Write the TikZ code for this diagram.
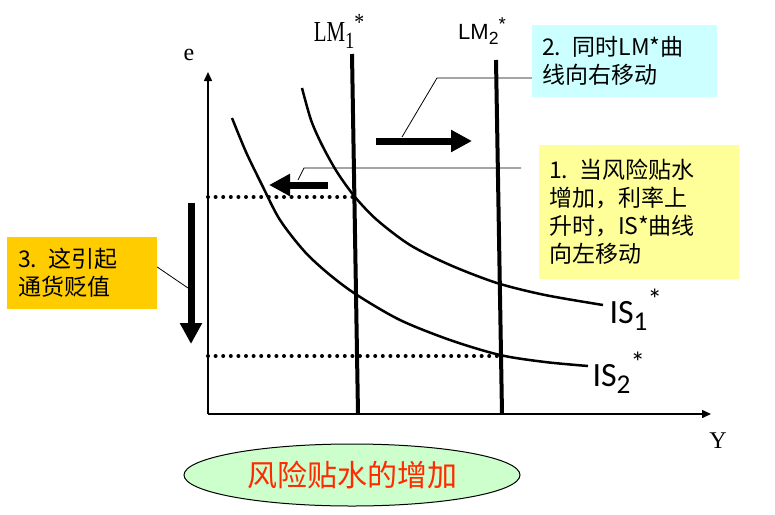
\documentclass[tikz,border=0pt]{standalone}
\usepackage{fontspec}
\setmainfont{Liberation Serif}
\newfontfamily\cjk{Noto Sans CJK SC}
\newfontfamily\lab{Carlito}
\newfontfamily\arl{Liberation Sans}
\usetikzlibrary{arrows.meta, shapes.geometric}
\definecolor{notecyan}{HTML}{CCFFFF}
\definecolor{noteyellow}{HTML}{FFFF99}
\definecolor{noteorange}{HTML}{FFCC00}
\definecolor{ovalgreen}{HTML}{CCFFCC}
\definecolor{ovalred}{HTML}{FF2A00}
\newcommand\subsup[2]{\raisebox{-0.22em}{\scalebox{0.8}{#1}}\raisebox{0.4em}{\scalebox{0.85}{#2}}}

\begin{document}
\begin{tikzpicture}[x=1pt, y=-1pt,
  axis/.style={line width=1.5pt, -{Triangle[length=9pt,width=8pt]}},
  lmline/.style={line width=4pt},
  iscurve/.style={line width=2.5pt},
  guide/.style={line width=4pt, dash pattern=on 0pt off 7.6pt, line cap=round},
  bigarrow/.style={line width=7pt, -{Triangle[length=21pt,width=21pt]}},
  leader/.style={line width=0.8pt},
  note/.style={align=left, font=\cjk\fontsize{23}{28}\selectfont, inner ysep=0pt}]
  \useasboundingbox (0,0) rectangle (775,514);
  % Axes
  \coordinate (O) at (208,414);
  \coordinate (ytop) at (208,72);
  \coordinate (xend) at (711,414);
  \draw[axis] (O) -- (ytop);
  \draw[axis] (O) -- (xend);
  \node[font=\fontsize{24}{24}\selectfont] (elab) at (189,55) {e};
  \node[font=\fontsize{24}{24}\selectfont] (ylab) at (718,441) {Y};
  % LM* curves
  \coordinate (lm1a) at (352,54);  \coordinate (lm1b) at (358,414);
  \coordinate (lm2a) at (496,60);  \coordinate (lm2b) at (502,414);
  \draw[lmline] (lm1a) -- (lm1b);
  \draw[lmline] (lm2a) -- (lm2b);
  \node[font=\fontsize{29}{29}\selectfont] (lm1lab) at (339,31)
    {\scalebox{0.72}[1]{LM}\scalebox{0.8}[1]{\subsup{1}{*}}};
  \node[font=\arl\fontsize{22}{22}\selectfont] (lm2lab) at (482,31) {LM\subsup{2}{*}};
  % IS* curves
  \draw[iscurve] plot[smooth] coordinates {(302,88) (311,120) (322,145) (337,172) (355,197)
    (377,220) (410,245) (450,265) (497,283) (545,295) (603,305)};
  \draw[iscurve] plot[smooth] coordinates {(232,118) (246,152) (262,185) (280,220) (305,252)
    (330,275) (357,295) (400,320) (450,340) (500,355) (545,362) (588,366)};
  \node[font=\lab\fontsize{34}{34}\selectfont, anchor=west] (is1lab) at (606,310) {IS\subsup{1}{*}};
  \node[font=\lab\fontsize{34}{34}\selectfont, anchor=west] (is2lab) at (589,373) {IS\subsup{2}{*}};
  % Dotted levels of e
  \coordinate (e1l) at (208,197); \coordinate (e1r) at (355,197);
  \coordinate (e2l) at (208,356); \coordinate (e2r) at (500,356);
  \draw[guide] (e1l) -- (e1r);
  \draw[guide] (e2l) -- (e2r);
  % Shift arrows
  \coordinate (rs) at (376,141); \coordinate (re) at (472,141);
  \coordinate (ls) at (328,185); \coordinate (le) at (269,185);
  \coordinate (ds) at (191,203); \coordinate (de) at (191,344);
  \draw[bigarrow] (rs) -- (re);
  \draw[bigarrow] (ls) -- (le);
  \draw[bigarrow] (ds) -- (de);
  % Notes
  \node[note, fill=notecyan, text width=165pt, inner xsep=10pt, minimum height=72pt] (n2)
    at (624.5,61) {2. 同时LM*曲\\线向右移动};
  \node[note, fill=noteyellow, text width=180pt, inner xsep=10pt, minimum height=134pt] (n1)
    at (639,212) {1. 当风险贴水\\增加，利率上\\升时，IS*曲线\\向左移动};
  \node[note, fill=noteorange, text width=128pt, inner xsep=11pt, minimum height=72pt] (n3)
    at (82,273) {3. 这引起\\通货贬值};
  % Leaders
  \coordinate (k2) at (437,78);  \coordinate (t2) at (402,137);
  \coordinate (s1) at (521,168); \coordinate (k1) at (304,168); \coordinate (t1) at (298,180);
  \coordinate (k3) at (157,267); \coordinate (t3) at (188,288);
  \draw[leader] (n2.west |- k2) -- (k2) -- (t2);
  \draw[leader] (s1) -- (k1) -- (t1);
  \draw[leader] (n3.east |- k3) -- (t3);
  % Cause
  \node[ellipse, draw, line width=1pt, fill=ovalgreen, minimum width=336pt, minimum height=62pt,
    text=ovalred, font=\cjk\fontsize{30}{30}\selectfont] (cause) at (352,475) {风险贴水的增加};
\end{tikzpicture}
\end{document}
